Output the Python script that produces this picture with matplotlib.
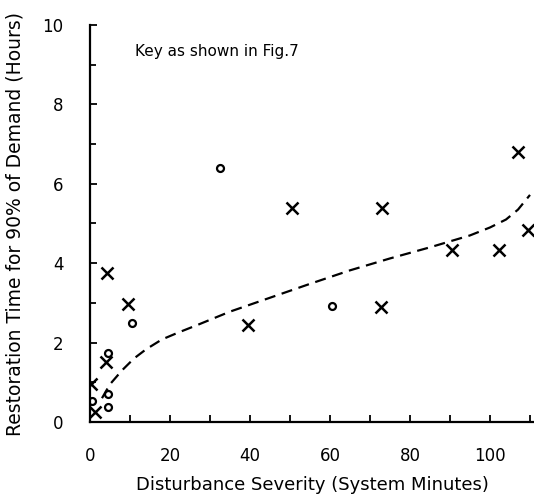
import matplotlib
matplotlib.use("Agg")
import matplotlib.pyplot as plt
from matplotlib.ticker import MultipleLocator, FixedLocator, FixedFormatter

# crosses
x_cross = [0.3, 1.2, 4.0, 4.2, 9.4, 39.6, 50.4, 72.9, 72.7, 90.4, 102.3, 107.0, 109.6]
y_cross = [0.95, 0.25, 1.52, 3.75, 2.96, 2.44, 5.38, 5.38, 2.9, 4.33, 4.33, 6.81, 4.84]

# circles
x_circle = [0.4, 4.6, 4.6, 4.6, 10.4, 32.5, 60.4]
y_circle = [0.52, 0.39, 0.70, 1.73, 2.5, 6.39, 2.92]

# dashed trend
x_curve = [3, 5, 8, 11, 14, 18, 22, 27, 35, 45, 55, 65, 75, 85, 95, 100, 104, 107, 110]
y_curve = [0.6, 0.95, 1.3, 1.6, 1.83, 2.08, 2.25, 2.45, 2.78, 3.13, 3.48, 3.82, 4.12, 4.4, 4.7, 4.9, 5.1, 5.35, 5.72]

x_ticks = list(range(0, 111, 10))
x_labels = ["0", "", "20", "", "40", "", "60", "", "80", "", "100", ""]

plt.rcParams['font.family'] = ['DejaVu Sans']

fig = plt.figure(figsize=(5.34, 5.0), dpi=100)
ax = fig.add_axes([0.1685, 0.156, 0.8315, 0.794])

ax.plot(x_curve, y_curve, color='black', linestyle=(0, (5, 3)), linewidth=1.6)
ax.plot(x_cross, y_cross, linestyle='none', marker='x', color='black',
        markersize=8, markeredgewidth=1.8)
ax.plot(x_circle, y_circle, linestyle='none', marker='o', markerfacecolor='white',
        markeredgecolor='black', markersize=5, markeredgewidth=1.6)

ax.set_xlim(0, 111)
ax.set_ylim(0, 10)

ax.spines['top'].set_visible(False)
ax.spines['right'].set_visible(False)
ax.spines['left'].set_linewidth(1.6)
ax.spines['bottom'].set_linewidth(1.6)

ax.xaxis.set_major_locator(FixedLocator(x_ticks))
ax.xaxis.set_major_formatter(FixedFormatter(x_labels))
ax.yaxis.set_major_locator(MultipleLocator(2))
ax.yaxis.set_minor_locator(MultipleLocator(1))

ax.tick_params(axis='x', direction='in', length=5, width=1.3, pad=18, labelsize=12)
ax.tick_params(axis='y', which='major', direction='in', length=5, width=1.3, pad=19, labelsize=12)
ax.tick_params(axis='y', which='minor', direction='in', length=4, width=1.3)

ax.set_xlabel("Disturbance Severity (System Minutes)", fontsize=13, labelpad=8)
ax.set_ylabel("Restoration Time for 90% of Demand (Hours)", fontsize=13.5, labelpad=13)

ax.text(11.2, 9.32, "Key as shown in Fig.7", fontsize=11, va='center', ha='left')

fig.savefig("out.png", dpi=100)
